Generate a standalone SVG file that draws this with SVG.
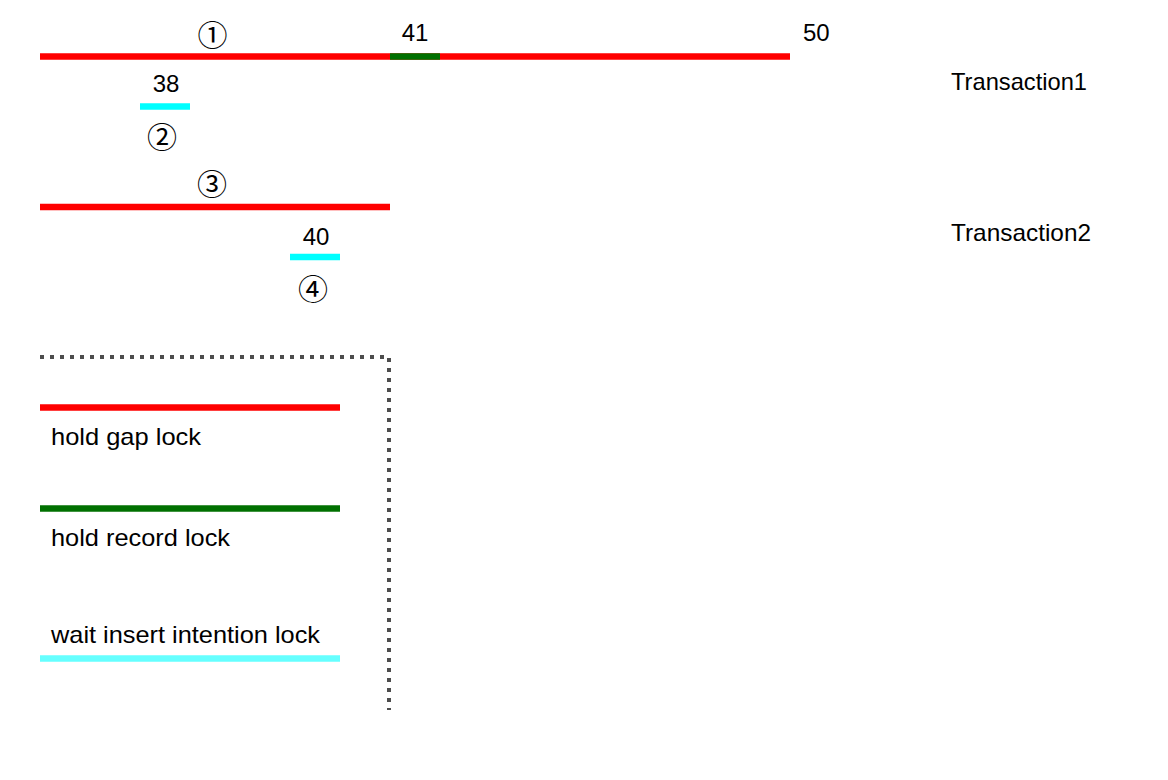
<svg xmlns="http://www.w3.org/2000/svg" width="1168" height="780" viewBox="0 0 1168 780">
<style>
text{font-family:"Liberation Sans",Arial,sans-serif;font-size:24px;fill:#000}
.c{font-family:"Noto Sans CJK SC","DejaVu Sans",sans-serif;font-size:30px;text-anchor:middle}
.m{text-anchor:middle}
.bar{stroke-width:6.5;fill:none}
.red{stroke:#ff0000}
.green{stroke:#007000}
.cyan{stroke:#00ffff}
.lcyan{stroke:#66ffff}
</style>
<rect width="1168" height="780" fill="#fff"/>
<g id="t1-gap">
<line class="bar red" x1="40" y1="56.5" x2="790" y2="56.5"/>
<line class="bar green" x1="390" y1="56.5" x2="440" y2="56.5"/>
<text class="c" x="212.5" y="46.3">①</text>
<text class="m" x="415" y="41">41</text>
<text x="803" y="41">50</text>
</g>
<g id="t1-wait">
<line class="bar cyan" x1="140" y1="106.5" x2="190" y2="106.5"/>
<text class="m" x="166" y="92">38</text>
<text class="c" x="162" y="148.3">②</text>
</g>
<g id="t2-gap">
<line class="bar red" x1="40" y1="207" x2="390" y2="207"/>
<text class="c" x="212" y="195.3">③</text>
</g>
<g id="t2-wait">
<line class="bar cyan" x1="290" y1="257" x2="340" y2="257"/>
<text class="m" x="316" y="245">40</text>
<text class="c" x="313" y="300.3">④</text>
</g>
<g id="labels">
<text x="951" y="90" textLength="136" lengthAdjust="spacingAndGlyphs">Transaction1</text>
<text x="951" y="241" textLength="140" lengthAdjust="spacingAndGlyphs">Transaction2</text>
</g>
<g id="legend">
<path d="M40 357 H389 V710" fill="none" stroke="#4d4d4d" stroke-width="4" stroke-dasharray="4 6"/>
<line class="bar red" x1="40" y1="407.5" x2="340" y2="407.5"/>
<text x="51" y="445" textLength="150" lengthAdjust="spacingAndGlyphs">hold gap lock</text>
<line class="bar green" x1="40" y1="508.5" x2="340" y2="508.5"/>
<text x="51" y="546" textLength="179" lengthAdjust="spacingAndGlyphs">hold record lock</text>
<text x="51" y="643" textLength="269" lengthAdjust="spacingAndGlyphs">wait insert intention lock</text>
<line class="bar lcyan" x1="40" y1="658.5" x2="340" y2="658.5"/>
</g>
</svg>
